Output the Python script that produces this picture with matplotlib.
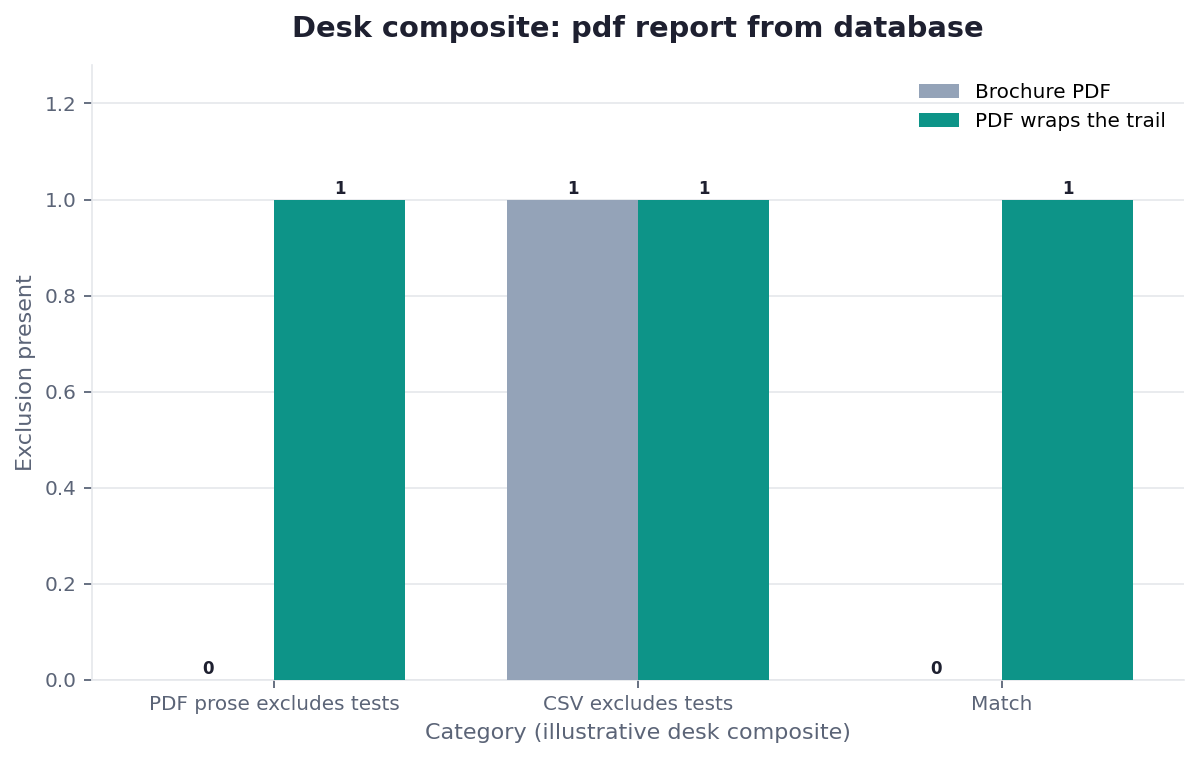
import numpy as np
import matplotlib.pyplot as plt

categories = ["PDF prose excludes tests", "CSV excludes tests", "Match"]
brochure_pdf = [0, 1, 0]
pdf_wraps = [1, 1, 1]

GRAY = "#94a3b8"
TEAL = "#0d9488"
DARK = "#1e2030"
MUTED = "#5b6477"
LIGHT = "#e5e7eb"

fig = plt.figure(figsize=(11.99, 7.6), dpi=100)
ax = fig.add_axes([0.0767, 0.1053, 0.9108, 0.8092])

x = np.arange(len(categories))
w = 0.36

b1 = ax.bar(x - w / 2, brochure_pdf, w, color=GRAY, label="Brochure PDF", zorder=3)
b2 = ax.bar(x + w / 2, pdf_wraps, w, color=TEAL, label="PDF wraps the trail", zorder=3)

for bars in (b1, b2):
    for r in bars:
        h = r.get_height()
        ax.text(r.get_x() + r.get_width() / 2, h + 0.004, f"{h:.0f}",
                ha="center", va="bottom", fontsize=12, fontweight="bold", color=DARK)

ax.set_xlim(-0.5, 2.5)
ax.set_ylim(0, 1.28)
ax.set_xticks(x)
ax.set_xticklabels(categories)
ax.set_yticks(np.arange(0, 1.21, 0.2))

ax.yaxis.grid(True, color=LIGHT, linewidth=1.2, zorder=0)
ax.set_axisbelow(True)
for s in ("top", "right"):
    ax.spines[s].set_visible(False)
for s in ("left", "bottom"):
    ax.spines[s].set_color(LIGHT)
    ax.spines[s].set_linewidth(1.2)

ax.tick_params(axis="both", colors=MUTED, labelsize=14.4, length=6, width=1.3, pad=5)

ax.set_title("Desk composite: pdf report from database", fontsize=20.8,
             fontweight="bold", color=DARK, pad=20)
ax.set_xlabel("Category (illustrative desk composite)", fontsize=16, color=MUTED, labelpad=6)
ax.set_ylabel("Exclusion present", fontsize=16, color=MUTED, labelpad=6)

ax.legend(loc="upper right", frameon=False, fontsize=14.4)

fig.savefig("out.png", dpi=100)
